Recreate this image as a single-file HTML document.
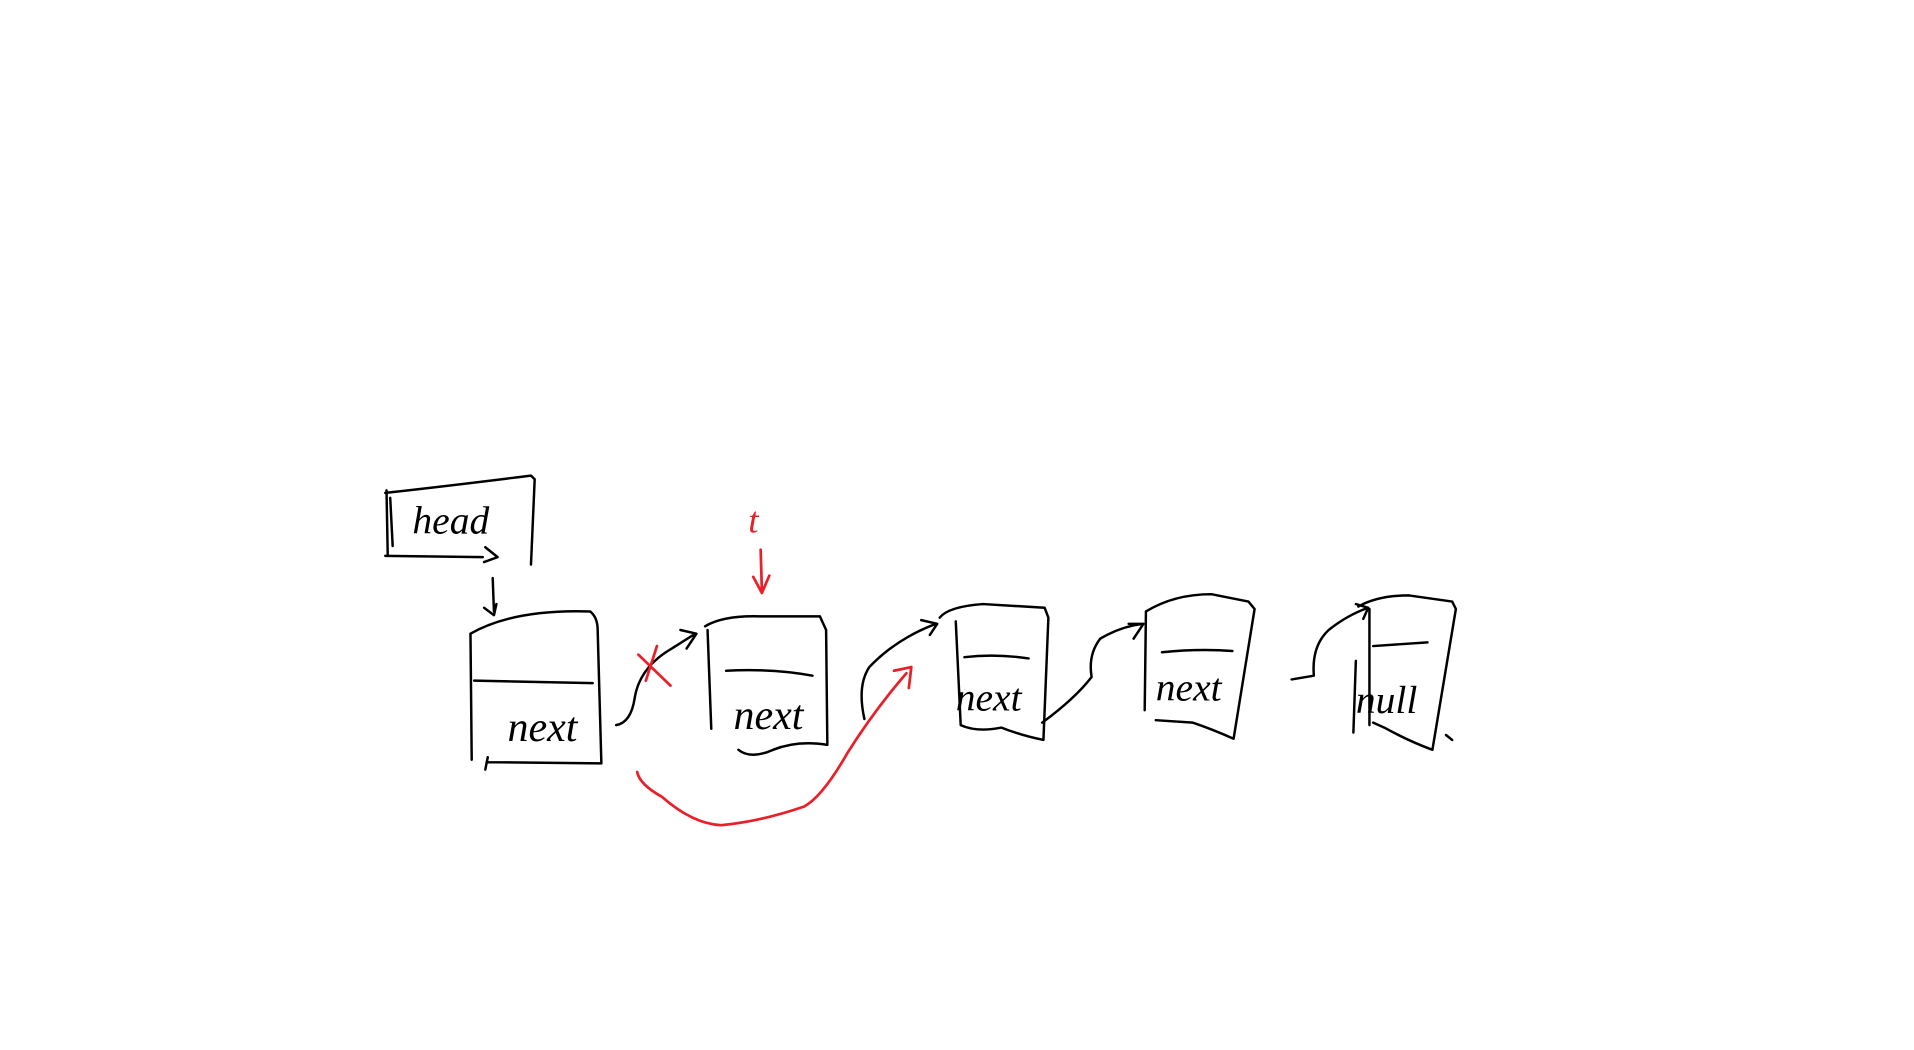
<!DOCTYPE html>
<html><head><meta charset="utf-8"><style>
html,body{margin:0;padding:0;background:#fff;width:1914px;height:1050px;overflow:hidden}
svg{display:block}
text{font-family:"Liberation Serif",serif;font-style:italic}
</style></head><body>
<svg width="1914" height="1050" viewBox="0 0 1550 850" preserveAspectRatio="none">
<g transform="translate(-4,-5)">
<g fill="none" stroke="#000" stroke-width="2" stroke-linecap="round" stroke-linejoin="round">
  <g>
    <path d="M317,402 L318,455 M316,404 Q370,398 434,390 L437,393 L434,462 M316,455 L395,456 M320,408 L322,447"/>
    <path d="M397,448 L407,456 L396,460"/>
  </g>
  <path d="M403,473 L404,500 M396,497 L404,503 L406,494"/>
  <g>
    <path d="M385,518 Q420,498 482,500 Q488,505 488,515 L491,623 L398,622 M397,628 L399,618 M385,518 L386,620 M388,556 L484,558"/>
  </g>
  <path d="M503,592 Q515,590 518,570 Q522,545 548,530 L567,518 M555,515 L568,518 L560,530"/>
  <g>
    <path d="M575,512 Q590,503 620,504 L668,504 L673,515 L674,608 Q650,604 630,612 Q612,620 602,612 M577,515 L580,595 M592,548 Q630,546 662,552"/>
  </g>
  <path d="M704,587 Q698,560 708,545 Q730,522 762,510 M750,507 L763,510 L757,519"/>
  <g>
    <path d="M765,505 Q772,496 800,494 L850,497 L853,505 L849,604 Q830,600 815,594 Q795,598 782,592 L778,508 M785,537 Q810,534 837,538"/>
  </g>
  <path d="M848,590 Q875,570 888,553 Q885,535 895,522 Q912,512 930,510 M918,510 L930,510 L922,522"/>
  <g>
    <path d="M932,500 Q955,486 985,486 L1015,492 L1020,498 L1003,603 Q985,595 970,590 L940,588 M932,500 L931,580 M945,533 Q975,530 1002,532"/>
  </g>
  <path d="M1050,555 L1068,552 Q1066,528 1080,515 Q1095,503 1112,497 M1102,494 L1112,497 L1108,506"/>
  <g>
    <path d="M1104,496 Q1120,487 1145,487 L1180,492 L1183,498 L1164,612 Q1145,605 1125,594 L1116,590 M1113,498 L1113,592 M1102,540 L1100,598 M1116,528 L1160,525 M1175,600 L1180,604"/>
  </g>
</g>
<g fill="none" stroke="#e8202a" stroke-width="2.2" stroke-linecap="round" stroke-linejoin="round">
  <path d="M521,535 L547,560 M536,528 L527,556"/>
  <path d="M620,450 L621,484 M614,472 L621,485 L627,471"/>
  <path d="M520,630 Q522,640 540,650 Q565,672 588,673 Q620,670 655,658 Q670,650 690,615 Q712,580 738,550 M728,548 L742,545 L740,562"/>
</g>
<g>
  <text x="338" y="437" font-size="32" fill="#000">head</text>
  <text x="415" y="605" font-size="34" fill="#000">next</text>
  <text x="598" y="595" font-size="34" fill="#000">next</text>
  <text x="778" y="580" font-size="32" fill="#000">next</text>
  <text x="940" y="572" font-size="32" fill="#000">next</text>
  <text x="1102" y="582" font-size="32" fill="#000">null</text>
  <text x="610" y="436" font-size="30" fill="#e8202a">t</text>
</g>
</g>
</svg>
</body></html>
